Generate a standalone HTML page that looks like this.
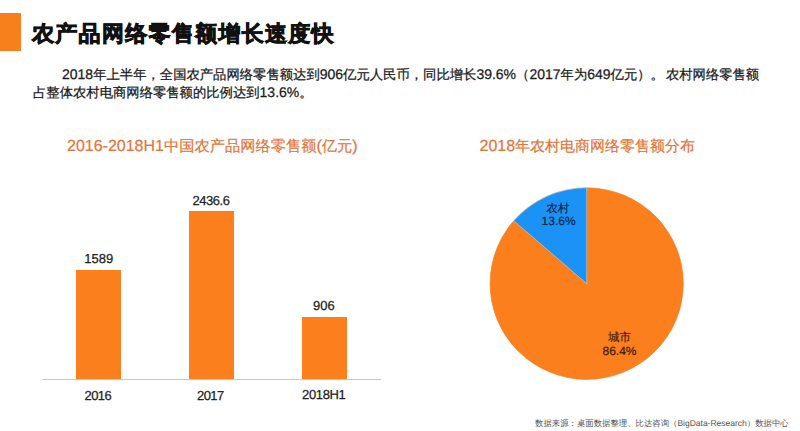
<!DOCTYPE html>
<html><head><meta charset="utf-8">
<style>
html,body{margin:0;padding:0;background:#fff;}
body{width:800px;height:431px;position:relative;overflow:hidden;font-family:"Liberation Sans",sans-serif;color:#222;text-rendering:geometricPrecision;}
.a{position:absolute;white-space:nowrap;line-height:1;}
#bar{left:0;top:12.6px;width:21.3px;height:38.4px;background:#f8801c;}
#title{left:32px;top:23px;font-size:22px;font-weight:bold;color:#111;-webkit-text-stroke:0.8px #111;letter-spacing:1.3px;}
.p{font-size:14px;color:#1a1a1a;-webkit-text-stroke:0.25px #1a1a1a;}
.p .c{font-size:13.33px;}
#p1{left:62px;top:66.7px;}
#p2{left:33px;top:85.3px;}
.ct{font-size:16px;color:#e47439;-webkit-text-stroke:0.2px #e47439;}
#ct1 .c{font-size:15.25px;}
#ct2 .c{font-size:15px;}
#ct1{left:67px;top:139px;}
#ct2{left:479.5px;top:139px;}
.b{position:absolute;background:#fb7f1c;}
.lbl{font-size:13px;color:#222;-webkit-text-stroke:0.25px #222;}
.yr{letter-spacing:-0.6px;}
.pl{font-size:12px;-webkit-text-stroke:0.2px currentColor;}
.pc{font-size:11.5px;-webkit-text-stroke:0.15px currentColor;}
#axis{position:absolute;left:42px;top:379px;width:339px;height:1px;background:#c8c8c8;}
#foot{left:535px;top:419px;font-size:8.5px;color:#505050;}
#foot .c{font-size:8.4px;}
</style></head><body>
<div id="bar" class="a"></div>
<div id="title" class="a">农产品网络零售额增长速度快</div>
<div id="p1" class="a p">2018<span class="c">年上半年，全国农产品网络零售额达到</span>906<span class="c">亿元人民币，同比增长</span>39.6%<span class="c">（</span>2017<span class="c">年为</span>649<span class="c">亿元）。</span><span class="c" style="margin-left:2px">农村网络零售额</span></div>
<div id="p2" class="a p"><span class="c">占整体农村电商网络零售额的比例达到</span>13.6%<span class="c">。</span></div>
<div id="ct1" class="a ct">2016-2018H1<span class="c">中国农产品网络零售额</span>(<span class="c">亿元</span>)</div>
<div id="ct2" class="a ct">2018<span class="c">年农村电商网络零售额分布</span></div>
<div class="b" style="left:76px;top:270px;width:45px;height:109px"></div>
<div class="b" style="left:189px;top:211px;width:45px;height:168px"></div>
<div class="b" style="left:302px;top:316.5px;width:45px;height:62.5px"></div>
<div id="axis"></div>
<div class="a lbl" style="left:84.3px;top:252.3px">1589</div>
<div class="a lbl" style="left:192.5px;top:193.8px;letter-spacing:-0.45px">2436.6</div>
<div class="a lbl" style="left:313px;top:298.5px">906</div>
<div class="a lbl yr" style="left:84.5px;top:388.5px">2016</div>
<div class="a lbl yr" style="left:197px;top:388.5px">2017</div>
<div class="a lbl" style="left:302px;top:388px;letter-spacing:-0.35px">2018H1</div>
<svg class="a" style="left:0;top:0" width="800" height="431">
<ellipse cx="586.7" cy="283.6" rx="96.6" ry="95.8" fill="#fb7f1c" stroke="#f07818" stroke-width="0.6"/>
<path d="M586.7 283.6 L586.7 187.8 A96.6 95.8 0 0 0 513.8 220.75 Z" fill="#1a92f6" stroke="rgba(255,255,255,0.45)" stroke-width="0.8" stroke-linejoin="round"/>
</svg>
<div class="a pl pc" style="left:546.3px;top:204.3px;color:#0e2448">农村</div>
<div class="a pl" style="left:541.6px;top:215px;color:#10284a">13.6%</div>
<div class="a pl pc" style="left:608px;top:333.3px;color:#3a1a08">城市</div>
<div class="a pl" style="left:602.5px;top:344.7px;color:#3a1a08">86.4%</div>
<div id="foot" class="a"><span class="c">数据来源：桌面数据整理、比达咨询（</span>BigData-Research<span class="c">）数据中心</span></div>
</body></html>
